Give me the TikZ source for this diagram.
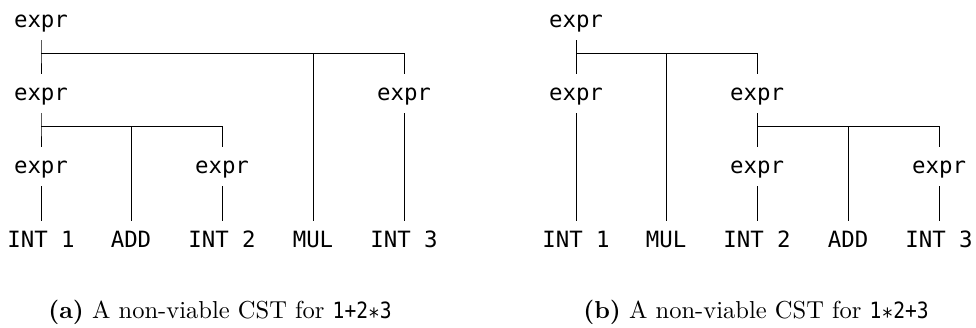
\documentclass[tikz,border=0pt]{standalone}
\usepackage{fontspec}
\setmonofont{DejaVu Sans Mono}
\newfontfamily\capmono[FakeStretch=0.875]{DejaVu Sans Mono}
\newcommand{\cstast}{\raisebox{-0.28em}{*}}
\begin{document}
\begin{tikzpicture}[x=0.4464pt,y=-0.4464pt,
    tok/.style={font=\ttfamily,anchor=base,inner xsep=0pt,inner ysep=3.5pt,text height=8pt,text depth=2.3pt},
    captxt/.style={font=\fontsize{10.95}{13.6}\selectfont,anchor=base,inner sep=0pt}]
    \useasboundingbox (0,0) rectangle (976,327);
    % (a) 1+2*3
    \node[tok] (a0) at (41,27) {expr};
    \node[tok] (a1) at (41,100) {expr};
    \node[tok] (a2) at (404,100) {expr};
    \node[tok] (a3) at (41,173) {expr};
    \node[tok] (a4) at (222,173) {expr};
    \node[tok] (aint1) at (41,247) {INT 1};
    \node[tok] (aadd) at (131,247) {ADD};
    \node[tok] (aint2) at (222,247) {INT 2};
    \node[tok] (amul) at (313,247) {MUL};
    \node[tok] (aint3) at (404,247) {INT 3};
    \coordinate (af0) at (41,53);
    \coordinate (af1) at (41,126);
    \draw (a0.south) -- (af0) -| (a1.north) (af0) -| (amul.north) (af0) -| (a2.north);
    \draw (a1.south) -- (af1) -| (a3.north) (af1) -| (aadd.north) (af1) -| (a4.north);
    \draw (a3.south) -- (aint1.north);
    \draw (a4.south) -- (aint2.north);
    \draw (a2.south) -- (aint3.north);
    \node[captxt] (capa) at (220,318) {\textbf{(a)} A non-viable CST for {\fontsize{10}{12}\capmono 1+2\cstast3}};
    % (b) 1*2+3
    \node[tok] (b0) at (576,27) {expr};
    \node[tok] (b1) at (576,100) {expr};
    \node[tok] (b2) at (757,100) {expr};
    \node[tok] (b3) at (757,173) {expr};
    \node[tok] (b4) at (939,173) {expr};
    \node[tok] (bint1) at (576,247) {INT 1};
    \node[tok] (bmul) at (666,247) {MUL};
    \node[tok] (bint2) at (757,247) {INT 2};
    \node[tok] (badd) at (848,247) {ADD};
    \node[tok] (bint3) at (939,247) {INT 3};
    \coordinate (bf0) at (576,53);
    \coordinate (bf2) at (757,126);
    \draw (b0.south) -- (bf0) -| (b1.north) (bf0) -| (bmul.north) (bf0) -| (b2.north);
    \draw (b2.south) -- (bf2) -| (b3.north) (bf2) -| (badd.north) (bf2) -| (b4.north);
    \draw (b1.south) -- (bint1.north);
    \draw (b3.south) -- (bint2.north);
    \draw (b4.south) -- (bint3.north);
    \node[captxt] (capb) at (756,318) {\textbf{(b)} A non-viable CST for {\fontsize{10}{12}\capmono 1\cstast2+3}};
\end{tikzpicture}
\end{document}
